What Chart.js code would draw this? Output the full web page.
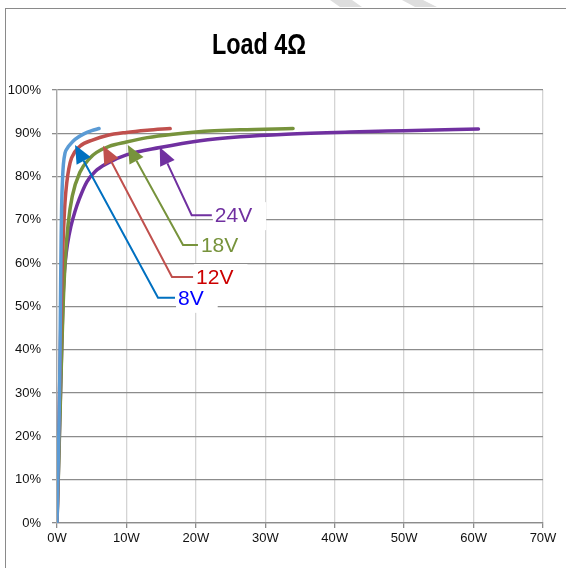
<!DOCTYPE html>
<html><head><meta charset="utf-8">
<script src="https://cdn.jsdelivr.net/npm/chart.js@4"></script>
<style>
html,body{margin:0;padding:0;background:#fff;}
#wrap{position:relative;width:566px;height:568px;overflow:hidden;}
#frame{position:absolute;left:5px;top:8px;width:600px;height:600px;border-top:1.5px solid #8a8a8a;border-left:1.5px solid #8a8a8a;}
canvas{position:absolute;left:0;top:0;}
</style></head><body>
<div id="wrap"><div id="frame"></div><canvas id="c" width="566" height="568"></canvas></div>
<script>
const TITLE = 'Load 4Ω';
const xTickLabels = ['0W','10W','20W','30W','40W','50W','60W','70W'];
const yTickLabels = ['0%','10%','20%','30%','40%','50%','60%','70%','80%','90%','100%'];
const seriesNames = ['8V','12V','18V','24V'];

// Output power (W) and efficiency (%) per supply voltage
const v8x  = [0, 0.15, 0.3, 0.4, 0.47, 0.53, 0.6, 0.68, 0.8, 0.92, 1.15, 1.5, 1.87, 2.6, 3.8, 5.0, 6.05];
const v8y  = [0, 12, 24, 34, 45, 56, 66, 74, 79.5, 82.8, 85.4, 86.6, 87.4, 88.6, 89.8, 90.6, 91.1];
const v12x = [0, 0.2, 0.4, 0.55, 0.7, 0.9, 1.15, 1.4, 1.7, 2.1, 3.3, 5.2, 7.2, 10, 13, 16.3];
const v12y = [0, 16, 33, 46, 57, 66, 74, 78.5, 81.8, 84.3, 87, 88.5, 89.5, 90.2, 90.7, 91.1];
const v18x = [0, 0.25, 0.5, 0.7, 0.9, 1.2, 1.6, 2.2, 3.3, 4.75, 5.7, 7.5, 10, 13, 16.75, 20, 26.4, 34];
const v18y = [0, 14, 29, 41, 51, 61, 69, 75.5, 81, 84.3, 85.6, 87, 88, 89, 89.8, 90.3, 90.8, 91.1];
const v24x = [0, 0.25, 0.5, 0.7, 0.85, 1.0, 1.2, 1.5, 2.0, 2.6, 3.2, 4.3, 5.5, 7.15, 10, 14.8, 20.6, 26.4, 33, 42.2, 50, 60.7];
const v24y = [0, 15, 30, 42, 51, 56.5, 60.5, 64.3, 68.5, 72, 74.8, 78.8, 81.2, 83, 85, 86.7, 88.3, 89.2, 89.8, 90.3, 90.6, 91];

const seriesX = [v8x, v12x, v18x, v24x];
const seriesY = [v8y, v12y, v18y, v24y];
const lineColors = ['#5B9BD5', '#C0504D', '#77933C', '#7030A0'];

// Callouts: arrow tip / elbow / end of horizontal leg, in data units
const callouts = [
  {i:3, tip:[14.8,86.8], elbow:[19.4,71.1], end:[22.3,71.1], line:'#7030A0', text:'#7030A0'},
  {i:2, tip:[10.2,87.3], elbow:[18.15,64.2], end:[20.3,64.2], line:'#77933C', text:'#77933C'},
  {i:1, tip:[6.63,87.1], elbow:[16.56,56.8], end:[19.6,56.8], line:'#C0504D', text:'#CC0000'},
  {i:0, tip:[2.6,87.3], elbow:[14.55,52.0], end:[17.0,52.0], line:'#0070C0', text:'#0000FF'}
];

const SANS = "'Liberation Sans', Arial, sans-serif";

const datasets = seriesNames.map((n, k) => ({
  label: n,
  data: seriesX[k].map((x, j) => ({x: x, y: seriesY[k][j]})),
  borderColor: lineColors[k],
  backgroundColor: lineColors[k],
  borderWidth: 3.5,
  pointRadius: 0,
  fill: false,
  cubicInterpolationMode: 'monotone',
  borderCapStyle: 'round',
  borderJoinStyle: 'round'
}));

const decor = {
  id: 'decor',
  afterDraw(chart) {
    const ctx = chart.ctx;
    const xs = chart.scales.x, ys = chart.scales.y;
    ctx.save();
    // faint watermark stripes at top edge
    ctx.fillStyle = '#dedede';
    [[330,352,362,340],[402,423,437,415]].forEach(s => {
      ctx.beginPath();
      ctx.moveTo(s[0],0); ctx.lineTo(s[1],0); ctx.lineTo(s[2],7); ctx.lineTo(s[3],7); ctx.closePath(); ctx.fill();
    });
    // title (condensed look)
    ctx.save();
    ctx.fillStyle = '#000';
    ctx.font = 'bold 30px ' + SANS;
    ctx.textAlign = 'center';
    ctx.textBaseline = 'middle';
    ctx.translate(259, 46);
    ctx.scale(0.78, 1);
    ctx.fillText(TITLE, 0, 0);
    ctx.restore();
    // callouts
    ctx.font = '21px ' + SANS;
    ctx.textAlign = 'left';
    ctx.textBaseline = 'middle';
    callouts.forEach(c => {
      const tx = xs.getPixelForValue(c.tip[0]), ty = ys.getPixelForValue(c.tip[1]);
      const ex = xs.getPixelForValue(c.elbow[0]), ey = ys.getPixelForValue(c.elbow[1]);
      const hx = xs.getPixelForValue(c.end[0]);
      const label = seriesNames[c.i];
      const w = ctx.measureText(label).width;
      ctx.fillStyle = '#fff';
      ctx.fillRect(hx + 1, ey - 13, w + 16, 28);
      ctx.fillStyle = c.text;
      ctx.fillText(label, hx + 3, ey + 1);
      const dx = tx - ex, dy = ty - ey, L = Math.hypot(dx, dy);
      const ux = dx / L, uy = dy / L;
      const hl = 18, hw = 8;
      const bx = tx - ux * hl, by = ty - uy * hl;
      ctx.strokeStyle = c.line;
      ctx.lineWidth = 2;
      ctx.lineJoin = 'miter';
      ctx.beginPath();
      ctx.moveTo(hx, ey); ctx.lineTo(ex, ey); ctx.lineTo(bx, by);
      ctx.stroke();
      ctx.fillStyle = c.line;
      ctx.beginPath();
      ctx.moveTo(tx, ty);
      ctx.lineTo(bx - uy * hw, by + ux * hw);
      ctx.lineTo(bx + uy * hw, by - ux * hw);
      ctx.closePath();
      ctx.fill();
    });
    ctx.restore();
  }
};

new Chart(document.getElementById('c'), {
  type: 'line',
  data: { datasets: datasets },
  options: {
    responsive: false,
    animation: false,
    devicePixelRatio: 1,
    layout: { padding: { left: 0, right: 23, top: 90, bottom: 0 } },
    plugins: { legend: { display: false }, title: { display: false }, tooltip: { enabled: false } },
    scales: {
      x: {
        type: 'linear', min: 0, max: 70,
        afterFit(s) { s.height = 45; },
        ticks: { stepSize: 10, color: '#111', padding: 3, font: { family: SANS, size: 13 },
                 callback: (v) => xTickLabels[Math.round(v / 10)] },
        grid: { color: '#d4d4d4', lineWidth: 1.3, tickLength: 5, tickColor: '#8c8c8c' },
        border: { color: '#8c8c8c', width: 1.3 }
      },
      y: {
        min: 0, max: 100,
        afterFit(s) { s.width = 57; },
        ticks: { stepSize: 10, color: '#111', padding: 11, font: { family: SANS, size: 13 },
                 callback: (v) => yTickLabels[Math.round(v / 10)] },
        grid: { color: '#8c8c8c', lineWidth: 1.3, tickLength: 5, tickColor: '#8c8c8c' },
        border: { color: '#a8a8a8', width: 1.3 }
      }
    }
  },
  plugins: [decor]
});
</script>
</body></html>
